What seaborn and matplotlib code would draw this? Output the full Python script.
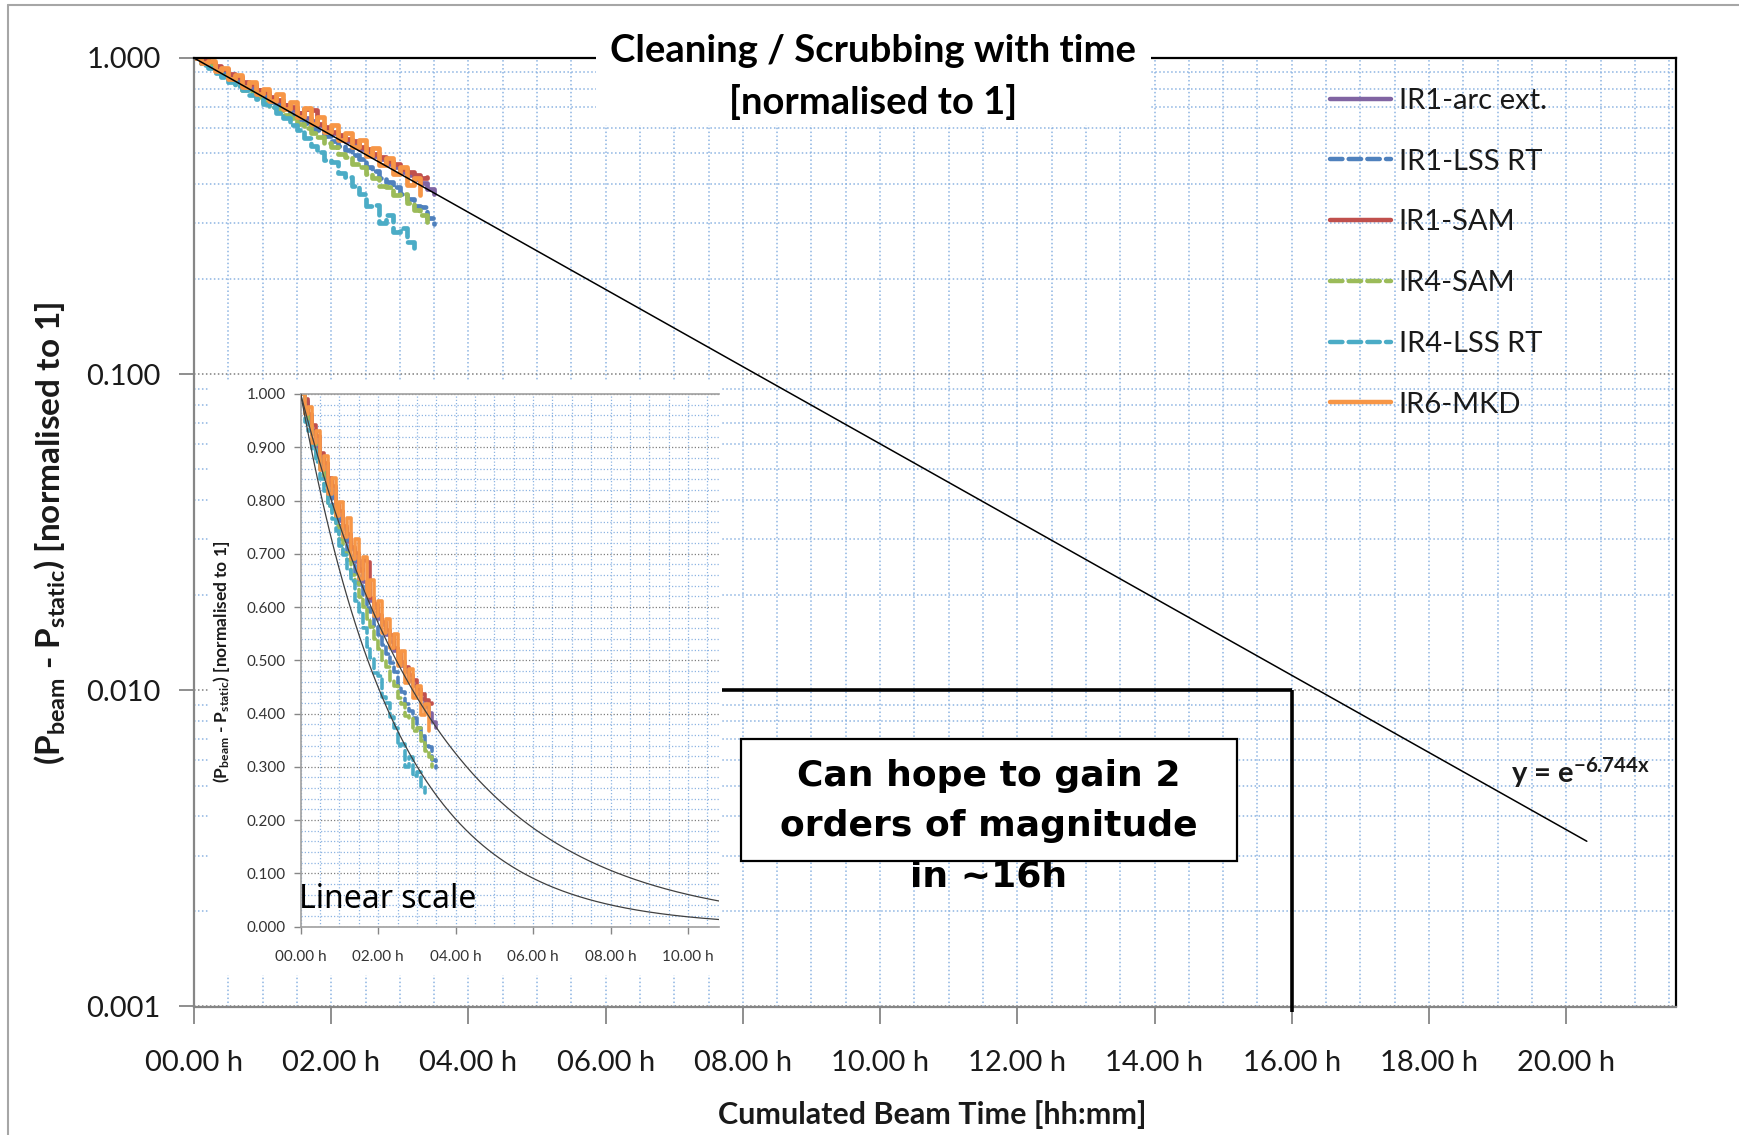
import numpy as np
import pandas as pd
import matplotlib
matplotlib.use("Agg")
import matplotlib.pyplot as plt
import seaborn as sns
from matplotlib.lines import Line2D
from matplotlib.patches import Rectangle
from matplotlib.ticker import MultipleLocator, LogLocator, FuncFormatter, NullFormatter, FixedLocator

# ---------------------------------------------------------------- data
# cumulated beam time of the samples [h]
hours = [0.0, 0.1, 0.2, 0.3, 0.4, 0.5, 0.6, 0.7, 0.8, 0.9, 1.0, 1.1,
         1.2, 1.3, 1.4, 1.5, 1.6, 1.7, 1.8, 1.9, 2.0, 2.1, 2.2, 2.3,
         2.4, 2.5, 2.6, 2.7, 2.8, 2.9, 3.0, 3.1, 3.2, 3.3, 3.4, 3.5]

# (P_beam - P_static), normalised to the first sample
ir1_arc = [1.000, 0.985, 0.951, 0.930, 0.899, 0.882, 0.851, 0.834, 0.805, 0.790, 0.762, 0.748,
           0.722, 0.709, 0.684, 0.671, 0.647, 0.632, 0.612, 0.598, 0.578, 0.566, 0.547, 0.535,
           0.517, 0.506, 0.489, 0.478, 0.462, 0.452, 0.437, 0.428, 0.413, 0.401, 0.384, 0.372]
ir1_lss = [1.000, 0.990, 0.958, 0.905, 0.890, 0.878, 0.842, 0.818, 0.792, 0.768, 0.752, 0.726,
           0.705, 0.688, 0.662, 0.640, 0.622, 0.598, 0.590, 0.565, 0.548, 0.528, 0.512, 0.495,
           0.478, 0.452, 0.440, 0.418, 0.405, 0.392, 0.372, 0.358, 0.340, 0.338, 0.312, 0.298]
ir1_sam = [1.000, 0.990, 0.962, 0.941, 0.921, 0.890, 0.870, 0.842, 0.828, 0.795, 0.781, 0.752,
           0.738, 0.712, 0.701, 0.668, 0.689, 0.684, 0.617, 0.605, 0.585, 0.571, 0.556, 0.548,
           0.523, 0.515, 0.496, 0.487, 0.472, 0.463, 0.447, 0.436, 0.425, 0.418, 0.419]
ir4_sam = [1.000, 0.962, 0.940, 0.908, 0.880, 0.858, 0.830, 0.790, 0.780, 0.752, 0.728, 0.702,
           0.688, 0.660, 0.645, 0.618, 0.600, 0.578, 0.562, 0.540, 0.522, 0.498, 0.488, 0.462,
           0.452, 0.430, 0.418, 0.395, 0.392, 0.368, 0.372, 0.348, 0.330, 0.318, 0.300]
ir4_lss = [1.000, 0.948, 0.930, 0.895, 0.872, 0.840, 0.818, 0.790, 0.765, 0.742, 0.715, 0.698,
           0.670, 0.648, 0.612, 0.590, 0.560, 0.525, 0.505, 0.476, 0.470, 0.432, 0.420, 0.393,
           0.372, 0.340, 0.342, 0.300, 0.318, 0.282, 0.290, 0.262, 0.250]
ir6_mkd = [1.000, 0.962, 0.975, 0.908, 0.930, 0.858, 0.884, 0.812, 0.842, 0.770, 0.798, 0.732,
           0.768, 0.690, 0.728, 0.652, 0.694, 0.620, 0.650, 0.584, 0.612, 0.551, 0.578, 0.524,
           0.550, 0.490, 0.518, 0.458, 0.484, 0.430, 0.452, 0.398, 0.418, 0.368]

series_names = ["IR1-arc ext.", "IR1-LSS RT", "IR1-SAM", "IR4-SAM", "IR4-LSS RT", "IR6-MKD"]
series_values = [ir1_arc, ir1_lss, ir1_sam, ir4_sam, ir4_lss, ir6_mkd]
series_colors = ["#8064A2", "#4F81BD", "#C0504D", "#9BBB59", "#4BACC6", "#F79646"]
series_dashed = [False, True, False, True, True, False]

# exponential fits, x in days
fit_rate = 6.744
fit_rate_ir4_lss = 9.6
fit_end_hours = 20.3

# "two orders of magnitude" guide
target_hours = 16.0
target_level = 0.01
guide_start_hours = 7.7

main_x_ticks = [0, 2, 4, 6, 8, 10, 12, 14, 16, 18, 20]
main_y_ticks = [0.001, 0.01, 0.1, 1.0]
inset_x_ticks = [0, 2, 4, 6, 8, 10]
inset_y_ticks = [0.0, 0.1, 0.2, 0.3, 0.4, 0.5, 0.6, 0.7, 0.8, 0.9, 1.0]

# ---------------------------------------------------------------- style
sns.set_theme(style="white")
plt.rcParams["font.family"] = ["Lato", "DejaVu Sans"]
plt.rcParams["mathtext.fontset"] = "custom"
plt.rcParams["mathtext.rm"] = "Lato"
plt.rcParams["mathtext.bf"] = "Lato:bold"
plt.rcParams["mathtext.it"] = "Lato:italic"

W, H = 1740, 1135
fig = plt.figure(figsize=(W / 100, H / 100), dpi=100)
fig.patch.set_facecolor("white")


def fx(px):
    return px / W


def fy(py):
    return 1 - py / H


BLUE_GRID = "#8DB4E2"
GRAY_AX = "#868686"
TXT = "#1A1A1A"
dotted = (0, (1, 1.6))
hour_fmt = FuncFormatter(lambda v, p: f"{int(round(v)):02d}.00 h")
val_fmt = FuncFormatter(lambda v, p: f"{v:.3f}")


def draw_series(axis, lw):
    for name, vals, col, dashed in zip(series_names, series_values, series_colors, series_dashed):
        df = pd.DataFrame({"t": hours[:len(vals)], "v": vals})
        sns.lineplot(data=df, x="t", y="v", ax=axis, color=col, lw=lw,
                     linestyle=(0, (2.6, 1.3)) if dashed else "-",
                     dash_capstyle="round", drawstyle="steps-post",
                     errorbar=None, legend=False, zorder=2)


# ---------------------------------------------------------------- main (log) axes
ax = fig.add_axes([fx(194), fy(1006.5), fx(1676 - 194), (1006.5 - 58) / H])
ax.set_yscale("log")
ax.set_xlim(0, 21.6)
ax.set_ylim(0.001, 1.0)
ax.set_axisbelow(True)

ax.xaxis.set_major_locator(FixedLocator(main_x_ticks))
ax.xaxis.set_minor_locator(MultipleLocator(0.5))
ax.xaxis.set_major_formatter(hour_fmt)
ax.yaxis.set_major_locator(FixedLocator(main_y_ticks))
ax.yaxis.set_minor_locator(LogLocator(base=10, subs=np.arange(2, 10)))
ax.yaxis.set_major_formatter(val_fmt)
ax.yaxis.set_minor_formatter(NullFormatter())

ax.xaxis.grid(True, which="both", color=BLUE_GRID, linestyle=dotted, lw=1.1)
ax.yaxis.grid(True, which="minor", color=BLUE_GRID, linestyle=dotted, lw=1.1)
ax.yaxis.grid(True, which="major", color="#7F7F7F", linestyle=dotted, lw=1.1)

ax.tick_params(axis="x", which="major", direction="out", length=12, width=1.3,
               color=GRAY_AX, pad=19, labelsize=21, labelcolor=TXT)
ax.tick_params(axis="y", which="major", direction="out", length=11, width=1.3,
               color=GRAY_AX, pad=13, labelsize=21, labelcolor=TXT)
ax.tick_params(which="minor", length=0)
ax.tick_params(left=True, bottom=True)
for side in ("left", "bottom"):
    ax.spines[side].set_color(GRAY_AX)
    ax.spines[side].set_linewidth(1.6)
for side in ("top", "right"):
    ax.spines[side].set_color("#000000")
    ax.spines[side].set_linewidth(1.6)

draw_series(ax, 3.4)

t_fit = np.linspace(0, fit_end_hours, 300)
sns.lineplot(x=t_fit, y=np.exp(-fit_rate * t_fit / 24), ax=ax, color="black",
             lw=1.1, errorbar=None, legend=False, zorder=3)
ax.set_xlabel("")
ax.set_ylabel("")

# guide lines for the 2-decade target
ax.plot([guide_start_hours, target_hours], [target_level, target_level], color="black", lw=2.6,
        solid_capstyle="butt", zorder=4)
ax.plot([target_hours, target_hours], [target_level, 0.00096], color="black", lw=2.6,
        solid_capstyle="butt", zorder=4, clip_on=False)

ax.text(fx(1511), fy(773), r"y = e$^{\mathbf{-6.744x}}$", transform=fig.transFigure,
        fontsize=21, fontweight="bold", color=TXT, ha="left", va="center", zorder=5)

handles = [Line2D([0], [0], color=c, lw=3.2,
                  linestyle=(0, (2.8, 1.4)) if d else "-", dash_capstyle="round",
                  solid_capstyle="round")
           for c, d in zip(series_colors, series_dashed)]
leg = ax.legend(handles, series_names, loc="upper left",
                bbox_to_anchor=(fx(1330), fy(88)), bbox_transform=fig.transFigure,
                frameon=False, fontsize=21, handlelength=2.1, handletextpad=0.25,
                labelspacing=1.19, borderpad=0, borderaxespad=0)
for t in leg.get_texts():
    t.set_color(TXT)

# ---------------------------------------------------------------- title
fig.add_artist(Rectangle((fx(596), fy(125)), fx(1151 - 596), (125 - 34) / H,
                         transform=fig.transFigure, facecolor="white", edgecolor="none", zorder=1))
fig.text(fx(873), fy(51), "Cleaning / Scrubbing with time", ha="center", va="center",
         fontsize=27.5, fontweight="bold", color="black", zorder=3)
fig.text(fx(873), fy(102), "[normalised to 1]", ha="center", va="center",
         fontsize=27.5, fontweight="bold", color="black", zorder=3)

fig.text(fx(50), fy(533),
         r"(P$_{\mathbf{beam}}$ - P$_{\mathbf{static}}$) [normalised to 1]",
         rotation=90, ha="center", va="center", fontsize=24, fontweight="bold", color=TXT)
fig.text(fx(932), fy(1115), "Cumulated Beam Time [hh:mm]", ha="center", va="center",
         fontsize=22, fontweight="bold", color=TXT)

# ---------------------------------------------------------------- annotation box
fig.add_artist(Rectangle((fx(741), fy(861)), fx(1237 - 741), (861 - 739) / H,
                         transform=fig.transFigure, facecolor="white", edgecolor="black",
                         lw=1.6, zorder=1.5))
fig.text(fx(989), fy(826), "Can hope to gain 2\norders of magnitude\nin ~16h",
         ha="center", va="center", fontsize=26, fontweight="bold", family="DejaVu Sans",
         linespacing=1.6, color="black", zorder=3)

# ---------------------------------------------------------------- inset (linear)
fig.add_artist(Rectangle((fx(208), fy(975)), fx(722 - 208), (975 - 380) / H,
                         transform=fig.transFigure, facecolor="white", edgecolor="none", zorder=1))
ins = fig.add_axes([fx(300.7), fy(926.6), fx(719 - 300.7), (926.6 - 394) / H])
ins.set_zorder(2)
ins.set_xlim(0, 10.8)
ins.set_ylim(0, 1.0)
ins.set_axisbelow(True)
ins.xaxis.set_major_locator(FixedLocator(inset_x_ticks))
ins.xaxis.set_minor_locator(MultipleLocator(0.5))
ins.xaxis.set_major_formatter(hour_fmt)
ins.yaxis.set_major_locator(FixedLocator(inset_y_ticks))
ins.yaxis.set_minor_locator(MultipleLocator(0.02))
ins.yaxis.set_major_formatter(val_fmt)
ins.xaxis.grid(True, which="both", color=BLUE_GRID, linestyle=dotted, lw=0.9)
ins.yaxis.grid(True, which="minor", color=BLUE_GRID, linestyle=dotted, lw=0.9)
ins.yaxis.grid(True, which="major", color="#7F7F7F", linestyle=dotted, lw=0.9)
ins.tick_params(axis="x", which="major", direction="out", length=5, width=1, color=GRAY_AX,
                labelsize=11, labelcolor="#333333", pad=12)
ins.tick_params(axis="y", which="major", direction="out", length=5, width=1, color=GRAY_AX,
                labelsize=11, labelcolor="#333333", pad=6)
ins.tick_params(which="minor", length=0)
ins.tick_params(left=True, bottom=True)
for side in ("left", "bottom", "top"):
    ins.spines[side].set_color("#A0A0A0")
    ins.spines[side].set_linewidth(1.2)
ins.spines["right"].set_visible(False)

draw_series(ins, 2.6)
t_lin = np.linspace(0, 10.8, 300)
sns.lineplot(x=t_lin, y=np.exp(-fit_rate * t_lin / 24), ax=ins, color="#404040",
             lw=0.9, errorbar=None, legend=False, zorder=3)
sns.lineplot(x=t_lin, y=np.exp(-fit_rate_ir4_lss * t_lin / 24), ax=ins, color="#404040",
             lw=0.9, errorbar=None, legend=False, zorder=3)
ins.set_xlabel("")
ins.set_ylabel("")

fig.text(fx(222), fy(662),
         r"(P$_{\mathbf{beam}}$ - P$_{\mathbf{static}}$) [normalised to 1]",
         rotation=90, ha="center", va="center", fontsize=12.5, fontweight="bold",
         color=TXT, zorder=3)
fig.text(fx(299), fy(900), "Linear scale", ha="left", va="center", fontsize=23,
         family=["Noto Sans", "DejaVu Sans"], color="black", zorder=3)

# slide frame
fig.add_artist(Line2D([fx(8), fx(8)], [0, fy(5)], transform=fig.transFigure,
                      color="#A6A6A6", lw=1.5))
fig.add_artist(Line2D([fx(8), 1], [fy(5), fy(5)], transform=fig.transFigure,
                      color="#A6A6A6", lw=1.5))

fig.savefig("out.png", dpi=100, facecolor="white")
